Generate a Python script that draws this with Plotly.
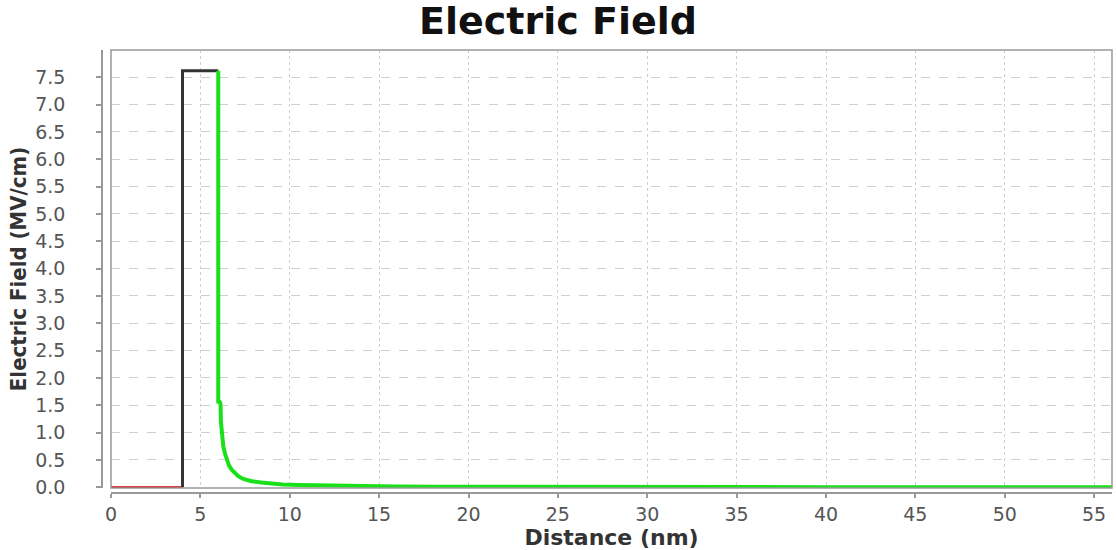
import plotly.graph_objects as go

# --- data ---
red_x = [0.0, 4.0]
red_y = [0.0, 0.0]

black_x = [4.0, 4.0, 6.0]
black_y = [0.0, 7.62, 7.62]

green_x = [6.0, 6.0, 6.05, 6.1, 6.13, 6.15, 6.2, 6.28, 6.37, 6.47, 6.6, 6.75,
           6.95, 7.12, 7.4, 7.87, 8.4, 9.0, 9.6, 10.5, 11.5, 12.5, 14.0, 16.0,
           18.0, 21.0, 25.0, 30.0, 40.0, 56.0]
green_y = [7.62, 1.57, 1.57, 1.55, 1.5, 1.2, 1.0, 0.75, 0.62, 0.50, 0.40, 0.32,
           0.25, 0.20, 0.15, 0.11, 0.085, 0.065, 0.05, 0.04, 0.032, 0.025, 0.018,
           0.012, 0.008, 0.005, 0.003, 0.002, 0.001, 0.0]

x_ticks = [0, 5, 10, 15, 20, 25, 30, 35, 40, 45, 50, 55]
y_ticks = [0.0, 0.5, 1.0, 1.5, 2.0, 2.5, 3.0, 3.5, 4.0, 4.5, 5.0, 5.5, 6.0, 6.5, 7.0, 7.5]

fig = go.Figure()
fig.add_trace(go.Scatter(x=red_x, y=red_y, mode="lines",
                         line=dict(color="#d40000", width=2), showlegend=False))
fig.add_trace(go.Scatter(x=black_x, y=black_y, mode="lines",
                         line=dict(color="#333333", width=3), showlegend=False))
fig.add_trace(go.Scatter(x=green_x, y=green_y, mode="lines",
                         line=dict(color="#19e019", width=4), showlegend=False))

tick_font = dict(family="DejaVu Sans", size=19, color="#555555")

fig.update_layout(
    width=1116, height=550,
    margin=dict(l=102, r=4, t=50, b=57, autoexpand=False),
    paper_bgcolor="white", plot_bgcolor="white",
    title=dict(text="Electric Field", x=0.5, xref="container", xanchor="center",
               y=0.963, yref="container", yanchor="middle",
               font=dict(family="DejaVu Sans", size=38, color="#111111", weight="bold")),
    xaxis=dict(
        domain=[9 / 1010, 1], anchor="free", position=0,
        range=[0, 56], tickvals=x_ticks, ticktext=[str(v) for v in x_ticks],
        showline=True, linecolor="#999999", linewidth=1.5,
        ticks="outside", ticklen=4, tickcolor="#999999", tickwidth=1.5,
        tickfont=tick_font, ticklabelstandoff=0,
        showgrid=True, gridcolor="#cfcfcf", gridwidth=1, griddash="dot",
        zeroline=False,
        title=dict(text="Distance (nm)", standoff=4,
                   font=dict(family="DejaVu Sans", size=22, color="#333333", weight="bold")),
    ),
    yaxis=dict(
        domain=[5 / 443, 1], anchor="free", position=0,
        range=[-0.015, 8.0], tickvals=y_ticks, ticktext=[f"{v:.1f}" for v in y_ticks],
        showline=True, linecolor="#999999", linewidth=1.5,
        ticks="outside", ticklen=5, tickcolor="#999999", tickwidth=1.5,
        tickfont=tick_font, ticklabelstandoff=27,
        showgrid=True, gridcolor="#cfcfcf", gridwidth=1, griddash="dash",
        zeroline=False,
        title=dict(text="Electric Field (MV/cm)", standoff=2,
                   font=dict(family="Liberation Sans Narrow, DejaVu Sans Condensed, Arial Narrow, sans-serif",
                             size=22, color="#333333", weight="bold")),
    ),
    shapes=[dict(type="rect", xref="x domain", yref="y domain", x0=0, x1=1, y0=0, y1=1,
                 line=dict(color="#999999", width=1.5), layer="above")],
)

fig.write_html("out.html", config={"displayModeBar": False},
               post_script="document.body.style.margin='0';document.body.style.overflow='hidden';")
